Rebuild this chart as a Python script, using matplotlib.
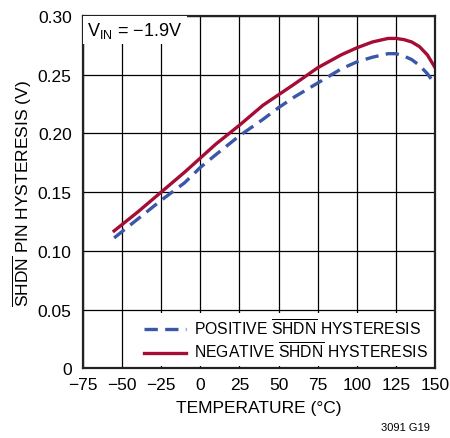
import matplotlib
matplotlib.use("Agg")
import matplotlib.pyplot as plt

plt.rcParams['font.family'] = ['Liberation Sans', 'DejaVu Sans']
plt.rcParams['mathtext.fontset'] = 'custom'
plt.rcParams['mathtext.rm'] = 'Liberation Sans'
plt.rcParams['mathtext.it'] = 'Liberation Sans'

# temperature (C) and hysteresis (V)
temp_pos = [-55, -40, -25, -10, 0, 10, 25, 40, 50, 60, 75, 90, 100, 110, 120, 125, 130, 135, 140, 145, 150]
hyst_pos = [0.111, 0.127, 0.143, 0.158, 0.171, 0.182, 0.198, 0.212, 0.222, 0.231, 0.243, 0.255, 0.261, 0.265, 0.268, 0.268, 0.266, 0.263, 0.258, 0.251, 0.242]

temp_neg = [-55, -40, -25, -10, 0, 10, 25, 40, 50, 60, 75, 90, 100, 110, 120, 125, 130, 135, 140, 145, 150]
hyst_neg = [0.117, 0.133, 0.150, 0.167, 0.179, 0.191, 0.207, 0.224, 0.233, 0.242, 0.256, 0.267, 0.273, 0.278, 0.281, 0.281, 0.280, 0.278, 0.274, 0.267, 0.256]

xticks = [-75, -50, -25, 0, 25, 50, 75, 100, 125, 150]
xlabels = ['−75', '−50', '−25', '0', '25', '50', '75', '100', '125', '150']
yticks = [0, 0.05, 0.10, 0.15, 0.20, 0.25, 0.30]
ylabels = ['0', '0.05', '0.10', '0.15', '0.20', '0.25', '0.30']

fig = plt.figure(figsize=(4.5, 4.39), dpi=100)
ax = fig.add_axes([0.184, 0.159, 0.783, 0.802])

ax.plot(temp_pos, hyst_pos, color='#3a57a8', lw=2.4, ls=(0, (4, 2.2)),
        label=r'POSITIVE $\overline{\mathrm{SHDN}}$ HYSTERESIS')
ax.plot(temp_neg, hyst_neg, color='#a50d35', lw=2.4,
        label=r'NEGATIVE $\overline{\mathrm{SHDN}}$ HYSTERESIS')

ax.set_xlim(-75, 150)
ax.set_ylim(0, 0.30)
ax.set_xticks(xticks)
ax.set_xticklabels(xlabels)
ax.set_yticks(yticks)
ax.set_yticklabels(ylabels)
ax.tick_params(labelsize=12.5, length=0)
ax.tick_params(axis='x', pad=6)
ax.tick_params(axis='y', pad=8)
ax.grid(True, color='black', lw=0.9)
for s in ax.spines.values():
    s.set_linewidth(1.6)
    s.set_color('#222222')

ax.set_xlabel('TEMPERATURE (°C)', fontsize=12.5, labelpad=6)
ax.set_ylabel(r'$\overline{\mathrm{SHDN}}$ PIN HYSTERESIS (V)', fontsize=12.5, labelpad=3)

ax.text(-72, 0.288, r'V$_{\mathrm{IN}}$ = −1.9V', fontsize=13, va='center',
        bbox=dict(facecolor='white', edgecolor='none', pad=3))

leg = ax.legend(loc='lower right', bbox_to_anchor=(1.0, 0.0), fontsize=11.3,
                frameon=True, fancybox=False, edgecolor='none', framealpha=1,
                handlelength=2.7, borderpad=0.3, labelspacing=0.2, handletextpad=0.5,
                borderaxespad=0.15)

fig.text(0.955, 0.018, '3091 G19', fontsize=8, ha='right')

fig.savefig('out.png', dpi=100)
